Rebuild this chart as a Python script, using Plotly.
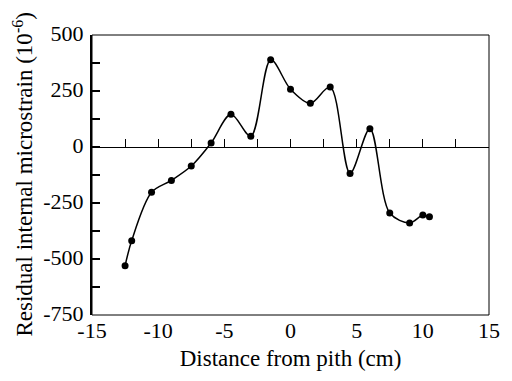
import plotly.graph_objects as go

distance_cm = [-12.5, -12.0, -10.5, -9.0, -7.5, -6.0, -4.5, -3.0, -1.5, 0.0,
               1.5, 3.0, 4.5, 6.0, 7.5, 9.0, 10.0, 10.5]
microstrain = [-530, -418, -202, -149, -85, 18, 146, 48, 390, 258,
               195, 268, -118, 82, -295, -339, -304, -311]

x_ticks = [-15, -10, -5, 0, 5, 10, 15]
y_ticks = [-750, -500, -250, 0, 250, 500]
zero_line_ticks = [-12.5, -10, -7.5, -5, -2.5, 0, 2.5, 5, 7.5, 10, 12.5]

FONT = "Liberation Serif"

fig = go.Figure()
fig.add_trace(go.Scatter(
    x=distance_cm, y=microstrain, mode="lines+markers",
    line=dict(color="black", width=1.5, shape="spline", smoothing=0.9),
    marker=dict(color="black", size=7),
    showlegend=False,
))
# invisible trace on the zero-line axis so it renders
fig.add_trace(go.Scatter(x=[x_ticks[0], x_ticks[-1]], y=[0, 0], xaxis="x2",
                         mode="lines", line=dict(width=0), hoverinfo="skip",
                         showlegend=False))

fig.update_layout(
    width=512, height=381,
    margin=dict(l=92, r=19, t=35, b=66),
    plot_bgcolor="white", paper_bgcolor="white",
    font=dict(family=FONT, size=22, color="black"),
    xaxis=dict(
        range=[-15, 15], tickvals=x_ticks, ticktext=[str(v) for v in x_ticks],
        ticks="", showgrid=False, zeroline=False, showline=False,
        tickfont=dict(family=FONT, size=22),
        title=dict(text="Distance from pith (cm)", standoff=7,
                   font=dict(family=FONT, size=23)),
    ),
    xaxis2=dict(
        range=[-15, 15], overlaying="x", anchor="free", position=0.6,
        side="top", tickvals=zero_line_ticks, ticks="outside", ticklen=8,
        tickwidth=1, tickcolor="black", showticklabels=False,
        showline=True, linecolor="black", linewidth=1, showgrid=False,
        zeroline=False,
    ),
    yaxis=dict(
        range=[-750, 500], tickvals=y_ticks, ticktext=[str(v) for v in y_ticks],
        ticks="inside", ticklen=8, tickwidth=1.5, tickcolor="black",
        tickfont=dict(family=FONT, size=22),
        ticklabelstandoff=2, ticklabelshift=-2,
        minor=dict(tickvals=[-625, -375, -125, 125, 375], ticks="inside",
                   ticklen=8, tickwidth=1.5, tickcolor="black"),
        showgrid=False, zeroline=False, showline=True, linecolor="black",
        linewidth=2,
    ),
    annotations=[dict(
        text="Residual internal microstrain (10<sup>-6</sup>)",
        xref="paper", yref="paper", x=-0.175, y=0.5, xanchor="center",
        yanchor="middle", textangle=-90, showarrow=False,
        font=dict(family=FONT, size=23, color="black"),
    )],
    shapes=[dict(type="rect", xref="paper", yref="paper", x0=0, x1=1, y0=0,
                 y1=1, line=dict(color="black", width=1), layer="above")],
)

fig.write_html("out.html")
